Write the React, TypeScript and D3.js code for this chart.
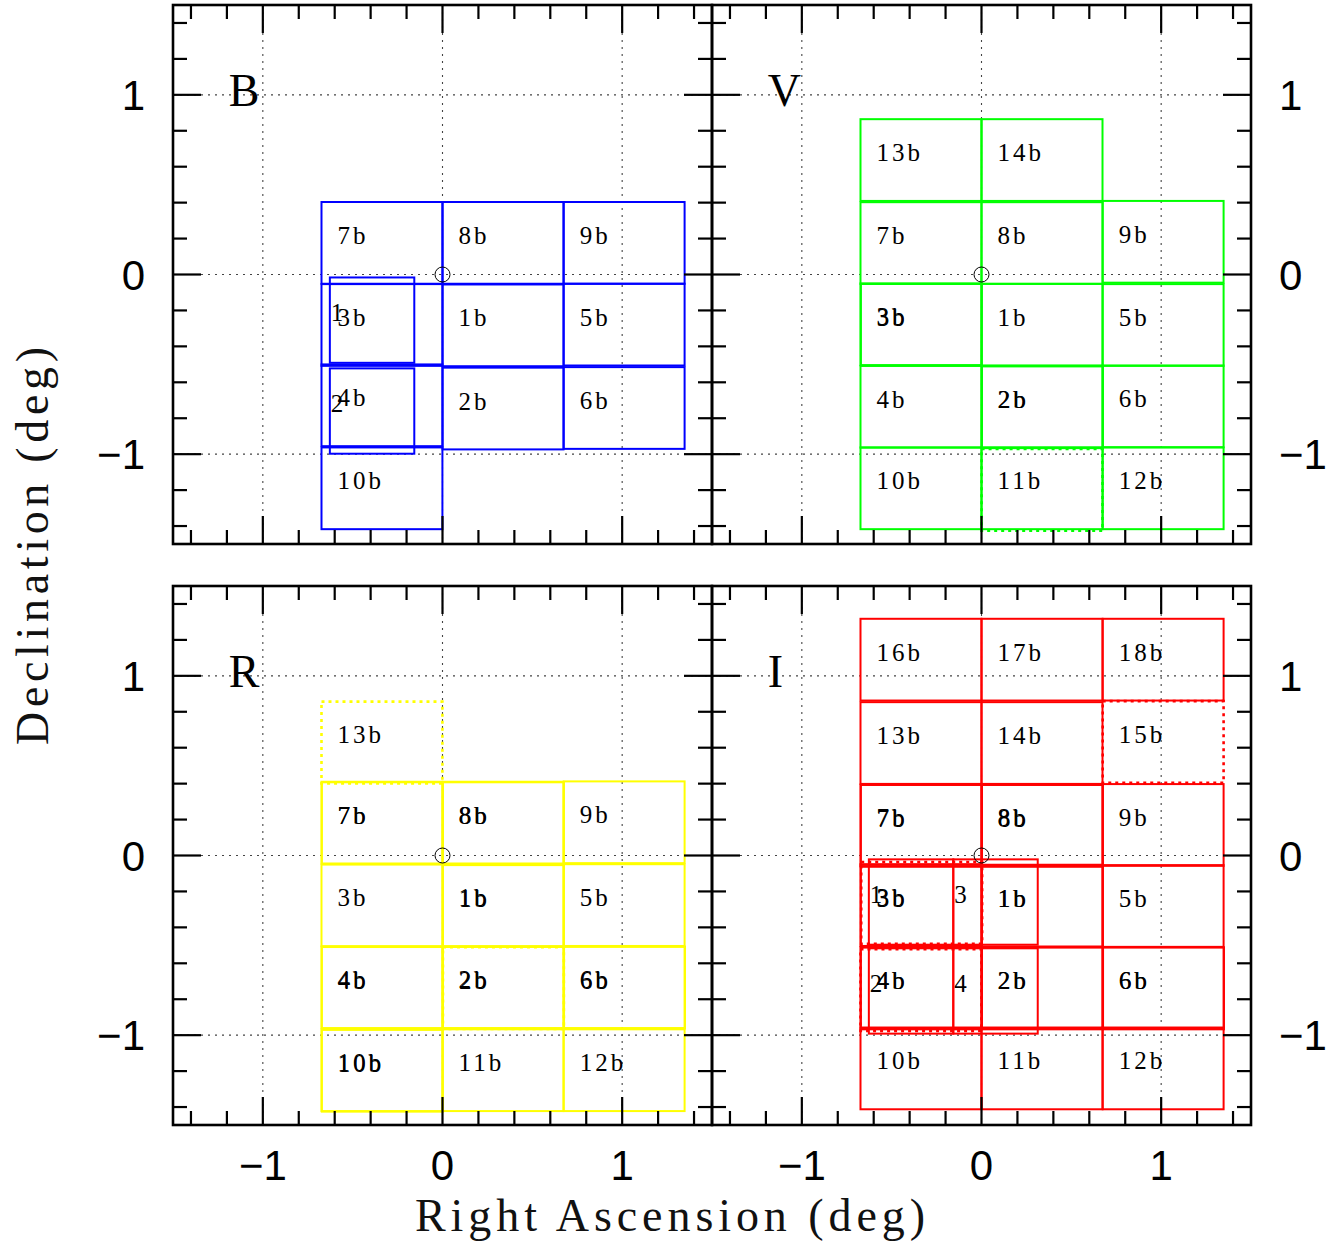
import React from "react";
import * as d3 from "d3";

// [label, RA centre (deg), Dec centre (deg), status]
type Field = [string, number, number, string];
// [chip id, RA centre (deg), Dec centre (deg)]
type Chip = [string, number, number];

const FIELD_W = 0.673;
const FIELD_H = 0.455;
const CHIP_W = 0.47;
const CHIP_H = 0.475;

const bFields: Field[] = [
  ["7b", -0.337, 0.176, "obs"], ["8b", 0.337, 0.176, "obs"], ["9b", 1.011, 0.176, "obs"],
  ["3b", -0.337, -0.281, "obs"], ["1b", 0.337, -0.283, "obs"], ["5b", 1.011, -0.279, "obs"],
  ["4b", -0.337, -0.728, "obs"], ["2b", 0.337, -0.746, "obs"], ["6b", 1.011, -0.743, "obs"],
  ["10b", -0.337, -1.19, "obs"],
];
const bChips: Chip[] = [["1", -0.392, -0.254], ["2", -0.392, -0.76]];

const vFields: Field[] = [
  ["13b", -0.337, 0.637, "obs"], ["14b", 0.337, 0.637, "obs"],
  ["7b", -0.337, 0.175, "obs"], ["8b", 0.337, 0.175, "obs"], ["9b", 1.011, 0.182, "obs"],
  ["3b", -0.337, -0.277, "obs"], ["3b", -0.335, -0.28, "obs"], ["1b", 0.337, -0.279, "obs"], ["5b", 1.011, -0.281, "obs"],
  ["4b", -0.337, -0.736, "obs"], ["2b", 0.337, -0.736, "obs"], ["2b", 0.339, -0.739, "obs"], ["6b", 1.011, -0.734, "obs"],
  ["10b", -0.337, -1.19, "obs"], ["11b", 0.337, -1.19, "obs"], ["12b", 1.011, -1.19, "obs"],
  ["11b", 0.337, -1.198, "planned"],
];
const vChips: Chip[] = [];

const rFields: Field[] = [
  ["13b", -0.337, 0.629, "planned"],
  ["7b", -0.337, 0.183, "obs"], ["7b", -0.335, 0.18, "obs"], ["8b", 0.337, 0.183, "obs"], ["8b", 0.339, 0.18, "obs"], ["9b", 1.011, 0.185, "obs"],
  ["3b", -0.337, -0.278, "obs"], ["1b", 0.337, -0.278, "obs"], ["1b", 0.339, -0.281, "obs"], ["5b", 1.011, -0.276, "obs"],
  ["4b", -0.337, -0.733, "obs"], ["4b", -0.335, -0.737, "obs"], ["2b", 0.337, -0.733, "obs"], ["2b", 0.339, -0.738, "planned"], ["2b", 0.339, -0.736, "obs"],
  ["6b", 1.011, -0.733, "obs"], ["6b", 1.013, -0.736, "obs"],
  ["10b", -0.337, -1.195, "obs"], ["10b", -0.335, -1.198, "obs"], ["11b", 0.337, -1.195, "obs"], ["12b", 1.011, -1.195, "obs"],
];
const rChips: Chip[] = [];

const iFields: Field[] = [
  ["16b", -0.337, 1.09, "obs"], ["17b", 0.337, 1.09, "obs"], ["18b", 1.011, 1.09, "obs"],
  ["13b", -0.337, 0.626, "obs"], ["14b", 0.337, 0.626, "obs"], ["15b", 1.011, 0.632, "planned"],
  ["7b", -0.337, 0.168, "obs"], ["7b", -0.335, 0.165, "obs"], ["8b", 0.337, 0.168, "obs"], ["8b", 0.339, 0.165, "obs"], ["9b", 1.011, 0.17, "obs"],
  ["3b", -0.337, -0.276, "obs"], ["3b", -0.335, -0.279, "obs"], ["3b", -0.333, -0.264, "planned"],
  ["1b", 0.337, -0.279, "obs"], ["1b", 0.339, -0.282, "obs"], ["5b", 1.011, -0.281, "obs"],
  ["4b", -0.337, -0.737, "obs"], ["4b", -0.335, -0.74, "obs"], ["4b", -0.337, -0.749, "planned"],
  ["2b", 0.337, -0.737, "obs"], ["2b", 0.339, -0.74, "obs"], ["6b", 1.011, -0.737, "obs"], ["6b", 1.013, -0.74, "obs"],
  ["10b", -0.337, -1.185, "obs"], ["11b", 0.337, -1.185, "obs"], ["12b", 1.011, -1.185, "obs"],
];
const iChips: Chip[] = [["1", -0.392, -0.259], ["3", 0.078, -0.259], ["2", -0.392, -0.754], ["4", 0.078, -0.754]];

const panelNames = ["B", "V", "R", "I"];
const panelFields = [bFields, vFields, rFields, iFields];
const panelChips = [bChips, vChips, rChips, iChips];
const gridValues = [-1, 0, 1];
const tickLabels = ["\u22121", "0", "1"];
const minorTicks = d3.range(-14, 15, 2).map((v) => v / 10);

const COLORS = ["#0000ff", "#00ff00", "#ffff00", "#ff0000"];
const PANEL = 539;
const COL_X = [173, 712];
const ROW_Y = [5, 586];
const SERIF = "'Liberation Serif', 'DejaVu Serif', serif";
const SANS = "'Liberation Sans', 'DejaVu Sans', sans-serif";

function Panel({ idx }: { idx: number }) {
  const col = idx % 2;
  const row = Math.floor(idx / 2);
  const x0 = COL_X[col];
  const y0 = ROW_Y[row];
  const x = d3.scaleLinear().domain([-1.5, 1.5]).range([x0, x0 + PANEL]);
  const y = d3.scaleLinear().domain([-1.5, 1.5]).range([y0 + PANEL, y0]);
  const color = COLORS[idx];
  const fields = panelFields[idx];
  const chips = panelChips[idx];
  const isMajor = (v: number) => Math.abs(v - Math.round(v)) < 1e-6;
  const observed = new Set(fields.filter((f) => f[3] === "obs").map((f) => f[0]));
  const labelled = fields.filter((f) => f[3] === "obs" || !observed.has(f[0]));

  return (
    <g>
      {gridValues.map((v) => (
        <g key={"g" + v}>
          <line x1={x(v)} x2={x(v)} y1={y0} y2={y0 + PANEL} stroke="#444" strokeWidth={1.1} strokeDasharray="2,5" />
          <line x1={x0} x2={x0 + PANEL} y1={y(v)} y2={y(v)} stroke="#444" strokeWidth={1.1} strokeDasharray="2,5" />
        </g>
      ))}
      {fields.map((f, i) => {
        const [, ra, dec, status] = f;
        return (
          <rect key={"f" + i}
            x={x(ra - FIELD_W / 2)} y={y(dec + FIELD_H / 2)}
            width={x(ra + FIELD_W / 2) - x(ra - FIELD_W / 2)}
            height={y(dec - FIELD_H / 2) - y(dec + FIELD_H / 2)}
            fill="none" stroke={color}
            strokeWidth={status === "planned" ? 2.6 : 2}
            strokeDasharray={status === "planned" ? "3,4" : undefined} />
        );
      })}
      {chips.map((c, i) => {
        const [, ra, dec] = c;
        return (
          <rect key={"c" + i}
            x={x(ra - CHIP_W / 2)} y={y(dec + CHIP_H / 2)}
            width={x(ra + CHIP_W / 2) - x(ra - CHIP_W / 2)}
            height={y(dec - CHIP_H / 2) - y(dec + CHIP_H / 2)}
            fill="none" stroke={color} strokeWidth={2} />
        );
      })}
      {labelled.map((f, i) => {
        const [label, ra, dec] = f;
        return (
          <text key={"fl" + i} x={x(ra - FIELD_W / 2) + 16} y={y(dec) + 1}
            fontFamily={SERIF} fontSize={25} letterSpacing={3} fill="#000">{label}</text>
        );
      })}
      {chips.map((c, i) => {
        const [label, ra, dec] = c;
        return (
          <text key={"cl" + i} x={x(ra - CHIP_W / 2) + 1} y={y(dec) + 1}
            fontFamily={SERIF} fontSize={25} fill="#000">{label}</text>
        );
      })}
      <circle cx={x(0)} cy={y(0)} r={7.5} fill="none" stroke="#000" strokeWidth={1} />
      <text x={x(-1.19)} y={y(0.94)} fontFamily={SERIF} fontSize={46} fill="#000">{panelNames[idx]}</text>
      <rect x={x0} y={y0} width={PANEL} height={PANEL} fill="none" stroke="#000" strokeWidth={2.6} />
      {minorTicks.map((v) => {
        const len = isMajor(v) ? 28 : 14;
        return (
          <g key={"t" + v} stroke="#000" strokeWidth={2.2}>
            <line x1={x(v)} x2={x(v)} y1={y0 + PANEL} y2={y0 + PANEL - len} />
            <line x1={x(v)} x2={x(v)} y1={y0} y2={y0 + len} />
            <line x1={x0} x2={x0 + len} y1={y(v)} y2={y(v)} />
            <line x1={x0 + PANEL} x2={x0 + PANEL - len} y1={y(v)} y2={y(v)} />
          </g>
        );
      })}
      {gridValues.map((v, i) => (
        <g key={"tl" + v}>
          {col === 0 && (
            <text x={x0 - 28} y={y(v) + 15} textAnchor="end" fontFamily={SANS} fontSize={42} fill="#000">{tickLabels[i]}</text>
          )}
          {col === 1 && (
            <text x={x0 + PANEL + 28} y={y(v) + 15} textAnchor="start" fontFamily={SANS} fontSize={42} fill="#000">{tickLabels[i]}</text>
          )}
          {row === 1 && (
            <text x={x(v)} y={y0 + PANEL + 55} textAnchor="middle" fontFamily={SANS} fontSize={42} fill="#000">{tickLabels[i]}</text>
          )}
        </g>
      ))}
    </g>
  );
}

export default function App() {
  return (
    <svg width={1343} height={1242} viewBox="0 0 1343 1242"
      style={{ position: "absolute", left: 0, top: 0, background: "#fff", display: "block" }}>
      <rect x={0} y={0} width={1343} height={1242} fill="#fff" />
      {[0, 1, 2, 3].map((i) => <Panel key={i} idx={i} />)}
      <text x={670} y={1231} textAnchor="middle" fontFamily={SERIF} fontSize={46}
        textLength={510} lengthAdjust="spacing" fill="#111">Right Ascension (deg)</text>
      <text transform="translate(48,546) rotate(-90)" textAnchor="middle" fontFamily={SERIF} fontSize={46}
        textLength={398} lengthAdjust="spacing" fill="#111">Declination (deg)</text>
    </svg>
  );
}
